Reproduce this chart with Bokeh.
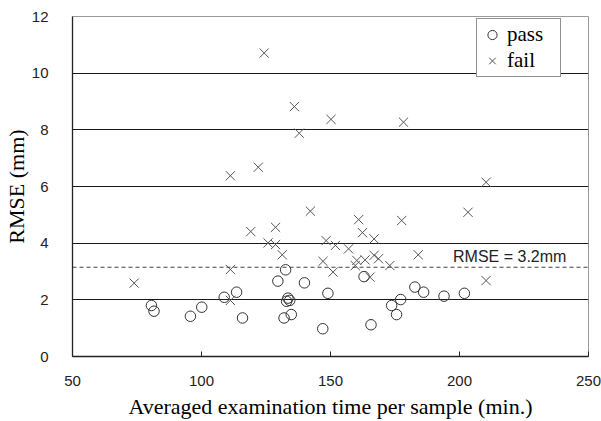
from bokeh.plotting import figure
from bokeh.models import (ColumnDataSource, FixedTicker, Span, Label, Legend, LegendItem,
                          Range1d)
from bokeh.embed import file_html
from bokeh.resources import INLINE

# ---- data ----
pass_x = [80.6, 81.6, 95.7, 100.1, 108.8, 113.6, 115.9, 129.6, 132.6, 133.5, 134.2, 133.0,
          134.8, 132.0, 139.9, 149.0, 147.0, 163.0, 165.7, 173.7, 177.2, 175.6, 182.7,
          186.1, 194.0, 201.9]
pass_y = [1.80, 1.60, 1.42, 1.74, 2.09, 2.27, 1.36, 2.66, 3.06, 2.06, 1.98, 1.95,
          1.48, 1.36, 2.60, 2.23, 0.98, 2.82, 1.12, 1.80, 2.01, 1.48, 2.45,
          2.27, 2.13, 2.23]

fail_x = [73.9, 111.2, 111.2, 119.1, 124.3, 136.0, 137.9, 150.2, 178.3, 111.2, 122.0,
          210.3, 203.3, 210.3, 128.7, 125.8, 128.7, 131.3, 142.2, 160.9, 162.4, 166.9,
          177.6, 148.3, 151.9, 157.0, 147.1, 151.0, 160.2, 163.4, 166.9, 168.6, 159.6,
          165.3, 173.0, 184.0]
fail_y = [2.59, 3.07, 1.98, 4.41, 10.71, 8.82, 7.88, 8.37, 8.27, 6.38, 6.68,
          6.15, 5.09, 2.68, 4.56, 4.01, 3.95, 3.59, 5.13, 4.83, 4.37, 4.15,
          4.80, 4.09, 3.92, 3.80, 3.36, 2.98, 3.39, 3.41, 3.57, 3.45, 3.21,
          2.80, 3.21, 3.59]

x_ticks = [50, 100, 150, 200, 250]
y_ticks = [0, 2, 4, 6, 8, 10, 12]
grid_ticks = [2, 4, 6, 8, 10]
rmse_threshold = 3.15
rmse_text = "RMSE = 3.2mm"
series_names = ["pass", "fail"]
x_title = "Averaged examination time per sample (min.)"
y_title = "RMSE (mm)"

p = figure(width=601, height=421, output_backend="svg", toolbar_location=None,
           x_range=Range1d(50, 250), y_range=Range1d(0, 12),
           min_border_left=69, min_border_right=13, min_border_top=16, min_border_bottom=65)
p.background_fill_color = "white"
p.border_fill_color = "white"
p.outline_line_color = "#9a9a9a"
p.outline_line_width = 1

# grid
p.xgrid.visible = False
p.ygrid.ticker = FixedTicker(ticks=grid_ticks)
p.ygrid.grid_line_color = "#1a1a1a"
p.ygrid.grid_line_width = 1.2

# axes
ax = p.xaxis[0]
ax.ticker = FixedTicker(ticks=x_ticks)
ax.axis_line_color = "#222222"
ax.axis_line_width = 1.3
ax.major_tick_in = 5
ax.major_tick_out = 0
ax.minor_tick_in = 0
ax.minor_tick_out = 0
ax.major_tick_line_color = "#222222"
ax.major_label_text_font = "Liberation Sans"
ax.major_label_text_font_size = "15px"
ax.major_label_text_color = "#222222"
ax.major_label_standoff = 19
ax.axis_label = x_title
ax.axis_label_text_font = "Liberation Serif"
ax.axis_label_text_font_size = "22px"
ax.axis_label_text_font_style = "normal"
ax.axis_label_text_color = "#000000"
ax.axis_label_standoff = 5

ay = p.yaxis[0]
ay.ticker = FixedTicker(ticks=y_ticks)
ay.axis_line_color = "#222222"
ay.axis_line_width = 1.3
ay.major_tick_in = 0
ay.major_tick_out = 0
ay.minor_tick_in = 0
ay.minor_tick_out = 0
ay.major_label_text_font = "Liberation Sans"
ay.major_label_text_font_size = "15px"
ay.major_label_text_color = "#222222"
ay.major_label_standoff = 24
ay.axis_label = y_title
ay.axis_label_text_font = "Liberation Serif"
ay.axis_label_text_font_size = "22px"
ay.axis_label_text_font_style = "normal"
ay.axis_label_text_color = "#000000"
ay.axis_label_standoff = 0

# threshold line
p.add_layout(Span(location=rmse_threshold, dimension="width", line_color="#444444",
                  line_dash="4 3", line_width=1.2))
p.add_layout(Label(x=197.5, y=rmse_threshold, y_offset=2, text=rmse_text,
                   text_font="Liberation Sans", text_font_size="16px",
                   text_color="#222222", text_baseline="bottom"))

src_pass = ColumnDataSource(dict(x=pass_x, y=pass_y))
src_fail = ColumnDataSource(dict(x=fail_x, y=fail_y))
r_pass = p.scatter("x", "y", source=src_pass, marker="circle", size=10.5,
                   fill_color=None, line_color="#333333", line_width=1)
r_fail = p.scatter("x", "y", source=src_fail, marker="x", size=13,
                   line_color="#555555", line_width=1)

legend = Legend(items=[LegendItem(label=series_names[0], renderers=[r_pass]),
                       LegendItem(label=series_names[1], renderers=[r_fail])],
                location=(404, 279))
legend.label_text_font = "Liberation Serif"
legend.label_text_font_size = "21px"
legend.label_text_color = "#000000"
legend.border_line_color = "#222222"
legend.border_line_width = 1
legend.background_fill_color = "white"
legend.background_fill_alpha = 1
legend.glyph_width = 24
legend.glyph_height = 23
legend.label_standoff = 3
legend.label_height = 23
legend.label_width = 50
legend.padding = 3
legend.spacing = 1
legend.margin = 0
p.add_layout(legend)

open("out.html", "w").write(file_html(p, INLINE))
